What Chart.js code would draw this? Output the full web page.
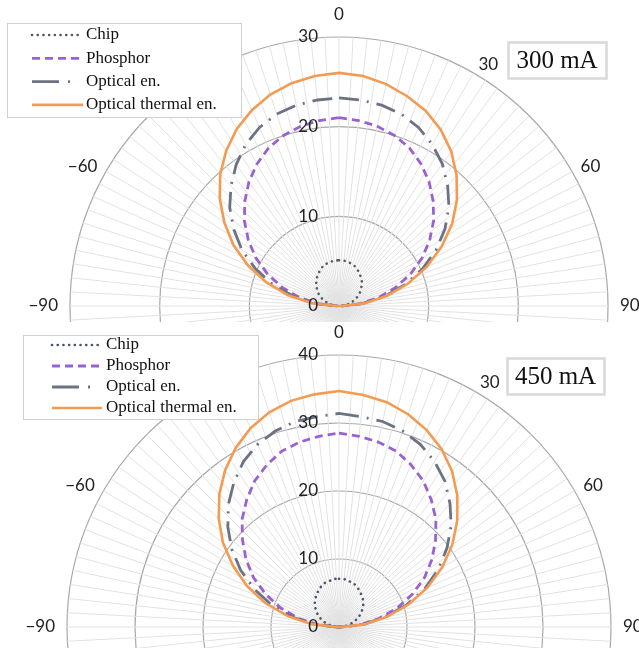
<!DOCTYPE html>
<html>
<head>
<meta charset="utf-8">
<script src="https://cdn.jsdelivr.net/npm/chart.js@4.4.1/dist/chart.umd.min.js"></script>
<style>
  html, body { margin: 0; padding: 0; background: #fff; }
  .panel { position: relative; width: 639px; overflow: hidden; }
  #p1 { height: 322px; }
  #p2 { height: 326px; }
  canvas { display: block; }
</style>
</head>
<body>
<div class="panel" id="p1"><canvas id="c1" width="639" height="575"></canvas></div>
<div class="panel" id="p2"><canvas id="c2" width="639" height="577"></canvas></div>
<script>
const angles = [-90, -84, -78, -72, -66, -60, -54, -48, -42, -36, -30, -24, -18, -12, -6, 0,
                6, 12, 18, 24, 30, 36, 42, 48, 54, 60, 66, 72, 78, 84, 90];
const seriesNames = ['Chip', 'Phosphor', 'Optical en.', 'Optical thermal en.'];

// 300 mA
const chip300 = [0.1, 0.6, 1.1, 1.6, 2.1, 2.6, 3.0, 3.4, 3.8, 4.1, 4.4, 4.7, 4.9, 5.0, 5.1, 5.1,
                 5.1, 5.0, 4.9, 4.7, 4.4, 4.1, 3.8, 3.4, 3.0, 2.6, 2.1, 1.6, 1.1, 0.6, 0.1];
const phosphor300 = [0.2, 2.3, 4.5, 6.6, 8.7, 10.7, 12.5, 14.2, 15.7, 17.1, 18.3, 19.3, 20.0, 20.5, 20.8, 21.0,
                     20.8, 20.5, 20.0, 19.3, 18.3, 17.1, 15.7, 14.2, 12.5, 10.7, 8.7, 6.6, 4.5, 2.3, 0.2];
const optical300 = [0.3, 2.6, 5.2, 7.8, 10.2, 12.5, 14.5, 16.4, 18.0, 19.5, 20.8, 21.8, 22.5, 22.9, 23.1, 23.2,
                    23.1, 22.9, 22.5, 21.8, 20.8, 19.6, 18.1, 16.5, 14.6, 12.5, 10.2, 7.8, 5.2, 2.6, 0.3];
const thermal300 = [0.3, 3.0, 5.8, 8.5, 11.1, 13.6, 15.8, 17.9, 19.8, 21.4, 22.8, 23.9, 24.8, 25.4, 25.8, 26.0,
                    25.8, 25.3, 24.6, 23.8, 22.7, 21.3, 19.6, 17.7, 15.6, 13.2, 10.7, 8.1, 5.5, 2.8, 0.3];

// 450 mA
const chip450 = [0.1, 0.8, 1.5, 2.2, 2.9, 3.6, 4.2, 4.8, 5.3, 5.7, 6.1, 6.5, 6.8, 6.9, 7.1, 7.1,
                 7.1, 6.9, 6.8, 6.5, 6.1, 5.7, 5.3, 4.8, 4.2, 3.6, 2.9, 2.2, 1.5, 0.8, 0.1];
const phosphor450 = [0.3, 3.1, 6.0, 9.0, 11.8, 14.5, 16.9, 19.1, 21.3, 23.1, 24.8, 26.1, 27.2, 27.8, 28.2, 28.5,
                     28.2, 27.8, 27.2, 26.1, 24.8, 23.1, 21.3, 19.1, 16.9, 14.5, 11.8, 9.0, 6.0, 3.1, 0.3];
const optical450 = [0.4, 3.5, 6.9, 10.4, 13.6, 16.7, 19.5, 22.0, 24.3, 26.3, 28.1, 29.4, 30.3, 30.9, 31.1, 31.4,
                    31.1, 30.9, 30.3, 29.4, 28.1, 26.5, 24.4, 22.2, 19.6, 16.8, 13.8, 10.4, 6.9, 3.5, 0.4];
const thermal450 = [0.4, 4.0, 7.7, 11.4, 14.8, 18.0, 21.1, 23.8, 26.3, 28.5, 30.4, 32.0, 33.2, 34.0, 34.4, 34.7,
                    34.3, 33.8, 32.9, 31.7, 30.2, 28.3, 26.0, 23.4, 20.6, 17.5, 14.2, 10.8, 7.2, 3.7, 0.4];

const ticks300 = [0, 10, 20, 30];
const ticks450 = [0, 10, 20, 30, 40];
const angleLabels = [-90, -60, -30, 0, 30, 60, 90];

// spokes every 3 degrees round the full circle
const spokes = [];
for (let a = 0; a < 360; a += 3) spokes.push(String(a));
const toIndex = a => ((a + 360) % 360) / 3;

function spread(values) {
  const arr = new Array(spokes.length).fill(null);
  angles.forEach((a, i) => { arr[toIndex(a)] = values[i]; });
  return arr;
}

const decor = {
  id: 'decor',
  afterDraw(chart, args, o) {
    const ctx = chart.ctx;
    const r = chart.scales.r;
    ctx.save();
    ctx.fillStyle = '#222';
    ctx.font = '17px Lato';

    // radial values, left of the axis
    ctx.textAlign = 'right';
    ctx.textBaseline = 'middle';
    o.ticks.forEach(v => {
      ctx.fillText(String(v), r.xCenter - 21, r.yCenter - r.getDistanceFromCenterForValue(v));
    });

    // angle labels, outside the outer ring
    angleLabels.forEach(a => {
      const txt = a < 0 ? '\u2212' + (-a) : String(a);
      const gap = a === 0 ? 14 : (Math.abs(a) === 90 ? 12 : 10);
      const p = r.getPointPosition(toIndex(a), r.drawingArea + gap);
      ctx.textAlign = a === 0 ? 'center' : (a > 0 ? 'left' : 'right');
      ctx.textBaseline = a === 0 ? 'bottom' : 'middle';
      ctx.fillText(txt, p.x, p.y);
    });

    // legend
    const L = o.legend;
    ctx.fillStyle = '#fff';
    ctx.fillRect(L.x, L.y, L.w, L.h);
    ctx.strokeStyle = '#d0d0d0';
    ctx.lineWidth = 1;
    ctx.strokeRect(L.x + 0.5, L.y + 0.5, L.w, L.h);
    ctx.font = '17px "Liberation Serif"';
    ctx.textAlign = 'left';
    ctx.textBaseline = 'middle';
    chart.data.datasets.forEach((ds, i) => {
      const y = L.y + L.first + i * L.step;
      ctx.beginPath();
      ctx.setLineDash(L.dash[i]);
      ctx.lineCap = ds.borderCapStyle;
      ctx.strokeStyle = ds.borderColor;
      ctx.lineWidth = ds.borderWidth;
      ctx.moveTo(L.x0, y);
      ctx.lineTo(L.x1, y);
      ctx.stroke();
      ctx.setLineDash([]);
      ctx.fillStyle = '#111';
      ctx.fillText(ds.label, L.tx, y);
    });

    // current box
    const T = o.title;
    ctx.fillStyle = '#fff';
    ctx.fillRect(T.x, T.y, T.w, T.h);
    ctx.strokeStyle = '#dadada';
    ctx.strokeRect(T.x + 0.5, T.y + 0.5, T.w, T.h);
    ctx.fillStyle = '#111';
    ctx.font = '25px "Liberation Serif"';
    ctx.textAlign = 'center';
    ctx.fillText(T.text, T.x + T.w / 2, T.y + T.h / 2 + 1);
    ctx.restore();
  }
};

function makeChart(id, series, chipColor, max, ticks, pad, legend, title) {
  const colors = [chipColor, '#9a62d0', '#6b7284', '#f39b52'];
  const dashes = [[0.1, 5.6], [8, 5], [20, 8, 2, 8], []];
  const caps = ['round', 'butt', 'butt', 'butt'];
  const widths = [2.6, 2.8, 2.8, 2.6];
  const order = [4, 3, 2, 1];
  new Chart(document.getElementById(id), {
    type: 'radar',
    data: {
      labels: spokes,
      datasets: series.map((s, i) => ({
        label: seriesNames[i],
        data: spread(s),
        borderColor: colors[i],
        borderWidth: widths[i],
        borderDash: dashes[i],
        borderCapStyle: caps[i],
        pointRadius: 0,
        pointHitRadius: 0,
        fill: false,
        spanGaps: true,
        tension: 0,
        order: order[i]
      }))
    },
    options: {
      responsive: false,
      animation: false,
      events: [],
      layout: { padding: pad },
      plugins: {
        legend: { display: false },
        tooltip: { enabled: false },
        decor: { ticks: ticks, legend: legend, title: title }
      },
      scales: {
        r: {
          min: 0,
          max: max,
          startAngle: 0,
          ticks: { display: false, stepSize: 10 },
          grid: { circular: true, color: '#a8a8a8', lineWidth: 1.2 },
          angleLines: { color: '#e2e2e2', lineWidth: 1 },
          pointLabels: { display: false }
        }
      }
    },
    plugins: [decor]
  });
}

makeChart('c1', [chip300, phosphor300, optical300, thermal300], '#575a62', 30, ticks300,
  { left: 70, right: 31, top: 37, bottom: 0 },
  { x: 7, y: 23, w: 234, h: 94, first: 12, step: 23.3, x0: 32, x1: 83, tx: 86,
    dash: [[0.1, 5.6], [8, 5], [27, 9, 2, 40], []] },
  { x: 508, y: 42, w: 98, h: 36, text: '300 mA' });

makeChart('c2', [chip450, phosphor450, optical450, thermal450], '#46546e', 40, ticks450,
  { left: 67, right: 28, top: 33, bottom: 0 },
  { x: 23, y: 13, w: 235, h: 84, first: 10, step: 21, x0: 52, x1: 102, tx: 106,
    dash: [[0.1, 5.6], [8, 5], [27, 9, 2, 40], []] },
  { x: 507, y: 36, w: 97, h: 36, text: '450 mA' });
</script>
</body>
</html>
